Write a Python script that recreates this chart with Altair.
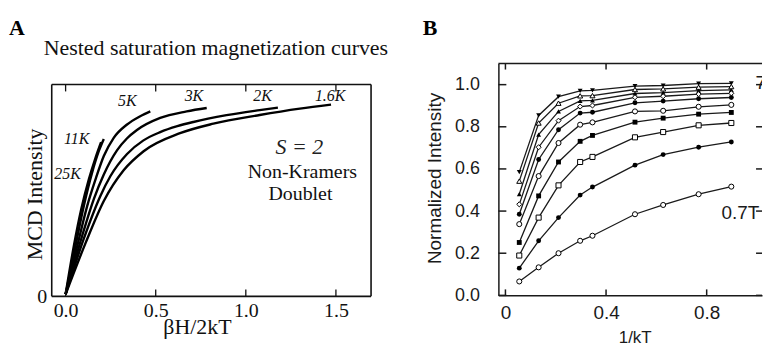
import altair as alt
import pandas as pd

SERIF = "Liberation Serif"
SANS = "Liberation Sans"

# ---------------- Panel A: nested saturation magnetization curves ----------------
temps_a = ["25K", "11K", "5K", "3K", "2K", "1.6K"]

bh_25k = [0.0, 0.046, 0.087, 0.129, 0.166, 0.197]
mcd_25k = [0.01, 0.239, 0.412, 0.552, 0.654, 0.728]
bh_11k = [0.0, 0.055, 0.101, 0.147, 0.184, 0.212]
mcd_11k = [0.01, 0.239, 0.427, 0.584, 0.685, 0.743]
bh_5k = [0.0, 0.074, 0.120, 0.166, 0.212, 0.267, 0.341, 0.414, 0.470]
mcd_5k = [0.01, 0.271, 0.427, 0.552, 0.662, 0.748, 0.811, 0.850, 0.873]
bh_3k = [0.0, 0.092, 0.157, 0.212, 0.286, 0.340, 0.396, 0.525, 0.672, 0.783]
mcd_3k = [0.01, 0.286, 0.460, 0.575, 0.690, 0.745, 0.785, 0.842, 0.873, 0.889]
bh_2k = [0.0, 0.100, 0.193, 0.249, 0.341, 0.430, 0.525, 0.620, 0.709, 0.893,
         1.077, 1.178]
mcd_2k = [0.01, 0.270, 0.474, 0.568, 0.672, 0.735, 0.775, 0.803, 0.823, 0.855,
          0.879, 0.891]
bh_16k = [0.0, 0.110, 0.212, 0.322, 0.433, 0.635, 0.820, 1.077, 1.300, 1.473]
mcd_16k = [0.01, 0.250, 0.450, 0.595, 0.685, 0.770, 0.815, 0.856, 0.886, 0.905]

a_xticks = [0.0, 0.5, 1.0, 1.5]
a_yticks = [0]

# ---------------- Panel B: normalized intensity vs 1/kT at fixed fields ----------------
inv_kt = [0.055, 0.132, 0.211, 0.297, 0.346, 0.515, 0.627, 0.768, 0.898]
int_b1 = [0.066, 0.133, 0.200, 0.259, 0.283, 0.385, 0.429, 0.480, 0.516]
int_b2 = [0.129, 0.259, 0.369, 0.476, 0.514, 0.618, 0.668, 0.703, 0.728]
int_b3 = [0.189, 0.369, 0.522, 0.633, 0.657, 0.750, 0.775, 0.807, 0.818]
int_b4 = [0.251, 0.472, 0.633, 0.731, 0.759, 0.822, 0.841, 0.860, 0.868]
int_b5 = [0.338, 0.566, 0.723, 0.810, 0.821, 0.873, 0.876, 0.895, 0.904]
int_b6 = [0.385, 0.645, 0.786, 0.865, 0.869, 0.914, 0.922, 0.933, 0.939]
int_b7 = [0.432, 0.703, 0.829, 0.896, 0.901, 0.940, 0.945, 0.955, 0.959]
int_b8 = [0.480, 0.763, 0.873, 0.923, 0.925, 0.958, 0.962, 0.972, 0.975]
int_b9 = [0.542, 0.818, 0.912, 0.947, 0.948, 0.977, 0.980, 0.988, 0.991]
int_b10 = [0.585, 0.854, 0.943, 0.970, 0.973, 0.993, 0.996, 1.005, 1.006]

b_series = ["0.7T", "b2", "b3", "b4", "b5", "b6", "b7", "b8", "b9", "7T"]
b_shapes = ["circle", "circle", "square", "square", "circle", "circle",
            "diamond", "triangle-up", "triangle-up", "triangle-down"]
b_filled = [False, True, False, True, False, True, False, True, False, True]

b_xticks = [0.0, 0.4, 0.8]
b_yticks = [0.0, 0.2, 0.4, 0.6, 0.8, 1.0]

# ================= build panel A =================
# the plot area reaches a little above the boxed frame (frame top = 1.0)
A_W, A_H = 321, 234
A_FRAME_PX = 213
ax_dom = [-0.077, 1.695]
ay_dom = [0.0, A_H / A_FRAME_PX]

curves = pd.concat([
    pd.DataFrame({"x": xs, "y": ys, "T": t})
    for t, xs, ys in zip(
        temps_a,
        [bh_25k, bh_11k, bh_5k, bh_3k, bh_2k, bh_16k],
        [mcd_25k, mcd_11k, mcd_5k, mcd_3k, mcd_2k, mcd_16k],
    )
], ignore_index=True)

xA_scale = alt.Scale(domain=ax_dom, nice=False, zero=False)
yA_scale = alt.Scale(domain=ay_dom, nice=False, zero=False)

a_lines = alt.Chart(curves).mark_line(
    color="black", strokeWidth=2.4, interpolate="monotone"
).encode(
    x=alt.X("x:Q", scale=xA_scale, axis=alt.Axis(
        values=a_xticks, format=".1f", ticks=False, tickSize=0, domain=False,
        grid=False, labelFont=SERIF, labelFontSize=20, labelColor="#111",
        labelPadding=4, title="βH/2kT", titleFont=SERIF, titleFontSize=22,
        titleFontWeight="normal", titleColor="#111", titleBaseline="alphabetic",
        titleAlign="center", titleX=146, titleY=37)),
    y=alt.Y("y:Q", scale=yA_scale, axis=alt.Axis(
        values=a_yticks, format="d", ticks=False, tickSize=0, domain=False,
        grid=False, labelFont=SERIF, labelFontSize=20, labelColor="#111",
        labelPadding=5, title="MCD Intensity", titleFont=SERIF, titleFontSize=22,
        titleFontWeight="normal", titleColor="#111", titleAngle=270,
        titleBaseline="middle", titleAlign="center", titleX=-17, titleY=131)),
    detail="T:N",
)

# boxed frame: horizontal edges and vertical edges
a_hedges = pd.DataFrame({"x": [ax_dom[0], ax_dom[0]], "x2": [ax_dom[1], ax_dom[1]],
                         "y": [0.0, 1.0]})
a_vedges = pd.DataFrame({"x": [ax_dom[0], ax_dom[1]], "y": [0.0, 0.0], "y2": [1.0, 1.0]})
a_frame_h = alt.Chart(a_hedges).mark_rule(color="#111", strokeWidth=1.6).encode(
    x=alt.X("x:Q", scale=xA_scale), x2="x2:Q", y=alt.Y("y:Q", scale=yA_scale))
a_frame_v = alt.Chart(a_vedges).mark_rule(color="#111", strokeWidth=1.6).encode(
    x=alt.X("x:Q", scale=xA_scale), y=alt.Y("y:Q", scale=yA_scale), y2="y2:Q")

# inward tick marks on the top and bottom edges
a_tick_rows = []
for v in a_xticks:
    a_tick_rows.append({"x": v, "y": 1.0, "y2": 1.0 - 7 / A_FRAME_PX})
    a_tick_rows.append({"x": v, "y": 0.0, "y2": 7 / A_FRAME_PX})
a_ticks = alt.Chart(pd.DataFrame(a_tick_rows)).mark_rule(color="#111", strokeWidth=1.3).encode(
    x=alt.X("x:Q", scale=xA_scale), y=alt.Y("y:Q", scale=yA_scale), y2="y2:Q")

a_temp_labels = pd.DataFrame({
    "label": ["5K", "3K", "2K", "1.6K", "11K", "25K"],
    "x": [0.342, 0.712, 1.093, 1.468, 0.061, 0.011],
    "y": [0.920, 0.944, 0.944, 0.944, 0.742, 0.577],
})
a_temp_text = alt.Chart(a_temp_labels).mark_text(
    font=SERIF, fontSize=16, fontStyle="italic", color="#111",
    align="center", baseline="middle"
).encode(x=alt.X("x:Q", scale=xA_scale), y=alt.Y("y:Q", scale=yA_scale), text="label:N")

a_note = alt.Chart(pd.DataFrame({
    "label": ["Non-Kramers", "Doublet"],
    "x": [1.314, 1.303],
    "y": [0.587, 0.484],
})).mark_text(
    font=SERIF, fontSize=20, color="#111", align="center", baseline="middle"
).encode(x=alt.X("x:Q", scale=xA_scale), y=alt.Y("y:Q", scale=yA_scale), text="label:N")

a_spin = alt.Chart(pd.DataFrame({"label": ["S = 2"], "x": [1.297], "y": [0.704]})).mark_text(
    font=SERIF, fontSize=22, fontStyle="italic", color="#222",
    align="center", baseline="middle"
).encode(x=alt.X("x:Q", scale=xA_scale), y=alt.Y("y:Q", scale=yA_scale), text="label:N")

a_title = alt.Chart(pd.DataFrame({"label": ["Nested saturation magnetization curves"]})).mark_text(
    font=SERIF, fontSize=22, color="#111", align="center", baseline="alphabetic"
).encode(x=alt.value(165), y=alt.value(-9), text="label:N")

a_letter = alt.Chart(pd.DataFrame({"label": ["A"]})).mark_text(
    font=SERIF, fontSize=22, fontWeight="bold", color="black",
    align="left", baseline="alphabetic"
).encode(x=alt.value(-43), y=alt.value(-29), text="label:N")

panel_a = alt.layer(
    a_lines, a_frame_h, a_frame_v, a_ticks, a_temp_text, a_note, a_spin, a_title, a_letter
).properties(
    width=A_W, height=A_H,
    view=alt.ViewBackground(stroke="transparent"),
)

# ================= build panel B =================
bx_dom = [-0.028, 1.02]
by_dom = [0.0, 1.1]
B_W, B_H = 265, 233

b_values = [int_b1, int_b2, int_b3, int_b4, int_b5, int_b6, int_b7, int_b8, int_b9, int_b10]
b_rows = []
for name, shape, filled, vals in zip(b_series, b_shapes, b_filled, b_values):
    for xv, yv in zip(inv_kt, vals):
        b_rows.append({"x": xv, "y": yv, "series": name, "shape": shape, "filled": filled})
b_df = pd.DataFrame(b_rows)

xB_scale = alt.Scale(domain=bx_dom, nice=False, zero=False)
yB_scale = alt.Scale(domain=by_dom, nice=False, zero=False)

b_lines = alt.Chart(b_df).mark_line(color="#1a1a1a", strokeWidth=1.3).encode(
    x=alt.X("x:Q", scale=xB_scale, axis=alt.Axis(
        values=b_xticks, format=".1~f", ticks=False, tickSize=0, grid=False,
        domain=True, domainColor="#1a1a1a", domainWidth=1.5,
        labelFont=SANS, labelFontSize=19, labelColor="#1a1a1a", labelPadding=8,
        title="1/kT", titleFont=SANS, titleFontSize=17, titleFontWeight="normal",
        titleColor="#1a1a1a", titleBaseline="alphabetic", titleAlign="center",
        titleX=137, titleY=47)),
    y=alt.Y("y:Q", scale=yB_scale, axis=alt.Axis(
        values=b_yticks, format=".1f", ticks=False, tickSize=0, grid=False,
        domain=True, domainColor="#1a1a1a", domainWidth=1.5,
        labelFont=SANS, labelFontSize=18, labelColor="#1a1a1a", labelPadding=19,
        title="Normalized Intensity", titleFont=SANS, titleFontSize=19,
        titleFontWeight="normal", titleColor="#1a1a1a", titleAngle=270,
        titleBaseline="middle", titleAlign="center", titleX=-64, titleY=115)),
    detail="series:N",
)

b_pts_filled = alt.Chart(b_df[b_df["filled"]]).mark_point(
    filled=True, size=24, color="black", opacity=1
).encode(
    x=alt.X("x:Q", scale=xB_scale), y=alt.Y("y:Q", scale=yB_scale),
    shape=alt.Shape("shape:N", scale=None),
)
b_pts_open = alt.Chart(b_df[~b_df["filled"]]).mark_point(
    filled=True, size=26, fill="white", stroke="black", strokeWidth=1, opacity=1
).encode(
    x=alt.X("x:Q", scale=xB_scale), y=alt.Y("y:Q", scale=yB_scale),
    shape=alt.Shape("shape:N", scale=None),
)

# frame top edge plus inward ticks on all four sides
b_frame_rows = [{"x": bx_dom[0], "x2": bx_dom[1], "y": by_dom[1], "y2": by_dom[1]}]
tx = 8 / B_W * (bx_dom[1] - bx_dom[0])
ty = 6 / B_H * (by_dom[1] - by_dom[0])
for v in b_yticks:
    b_frame_rows.append({"x": bx_dom[0], "x2": bx_dom[0] + tx, "y": v, "y2": v})
    b_frame_rows.append({"x": bx_dom[1] - tx * 0.75, "x2": bx_dom[1], "y": v, "y2": v})
for v in b_xticks:
    b_frame_rows.append({"x": v, "x2": v, "y": 0.0, "y2": ty})
    b_frame_rows.append({"x": v, "x2": v, "y": by_dom[1], "y2": by_dom[1] - ty})
b_frame = alt.Chart(pd.DataFrame(b_frame_rows)).mark_rule(
    color="#1a1a1a", strokeWidth=1.5
).encode(
    x=alt.X("x:Q", scale=xB_scale), x2="x2:Q",
    y=alt.Y("y:Q", scale=yB_scale), y2="y2:Q",
)

b_field_text = alt.Chart(pd.DataFrame({
    "label": ["7T", "0.7T"],
    "x": [0.994, 0.859],
    "y": [1.006, 0.392],
})).mark_text(
    font=SANS, fontSize=19, color="#1a1a1a", align="left", baseline="middle", clip=True
).encode(x=alt.X("x:Q", scale=xB_scale), y=alt.Y("y:Q", scale=yB_scale), text="label:N")

b_letter = alt.Chart(pd.DataFrame({"label": ["B"]})).mark_text(
    font=SERIF, fontSize=22, fontWeight="bold", color="black",
    align="left", baseline="alphabetic"
).encode(x=alt.value(-76), y=alt.value(-29), text="label:N")

panel_b = alt.layer(
    b_lines, b_pts_filled, b_pts_open, b_frame, b_field_text, b_letter
).properties(
    width=B_W, height=B_H,
    view=alt.ViewBackground(stroke="transparent"),
)

chart = alt.hconcat(panel_a, panel_b, spacing=33).properties(
    padding={"left": 8, "top": 15, "right": 0, "bottom": 0},
    background="white",
)

chart.save("out.html", embed_options={"renderer": "svg", "actions": False})
